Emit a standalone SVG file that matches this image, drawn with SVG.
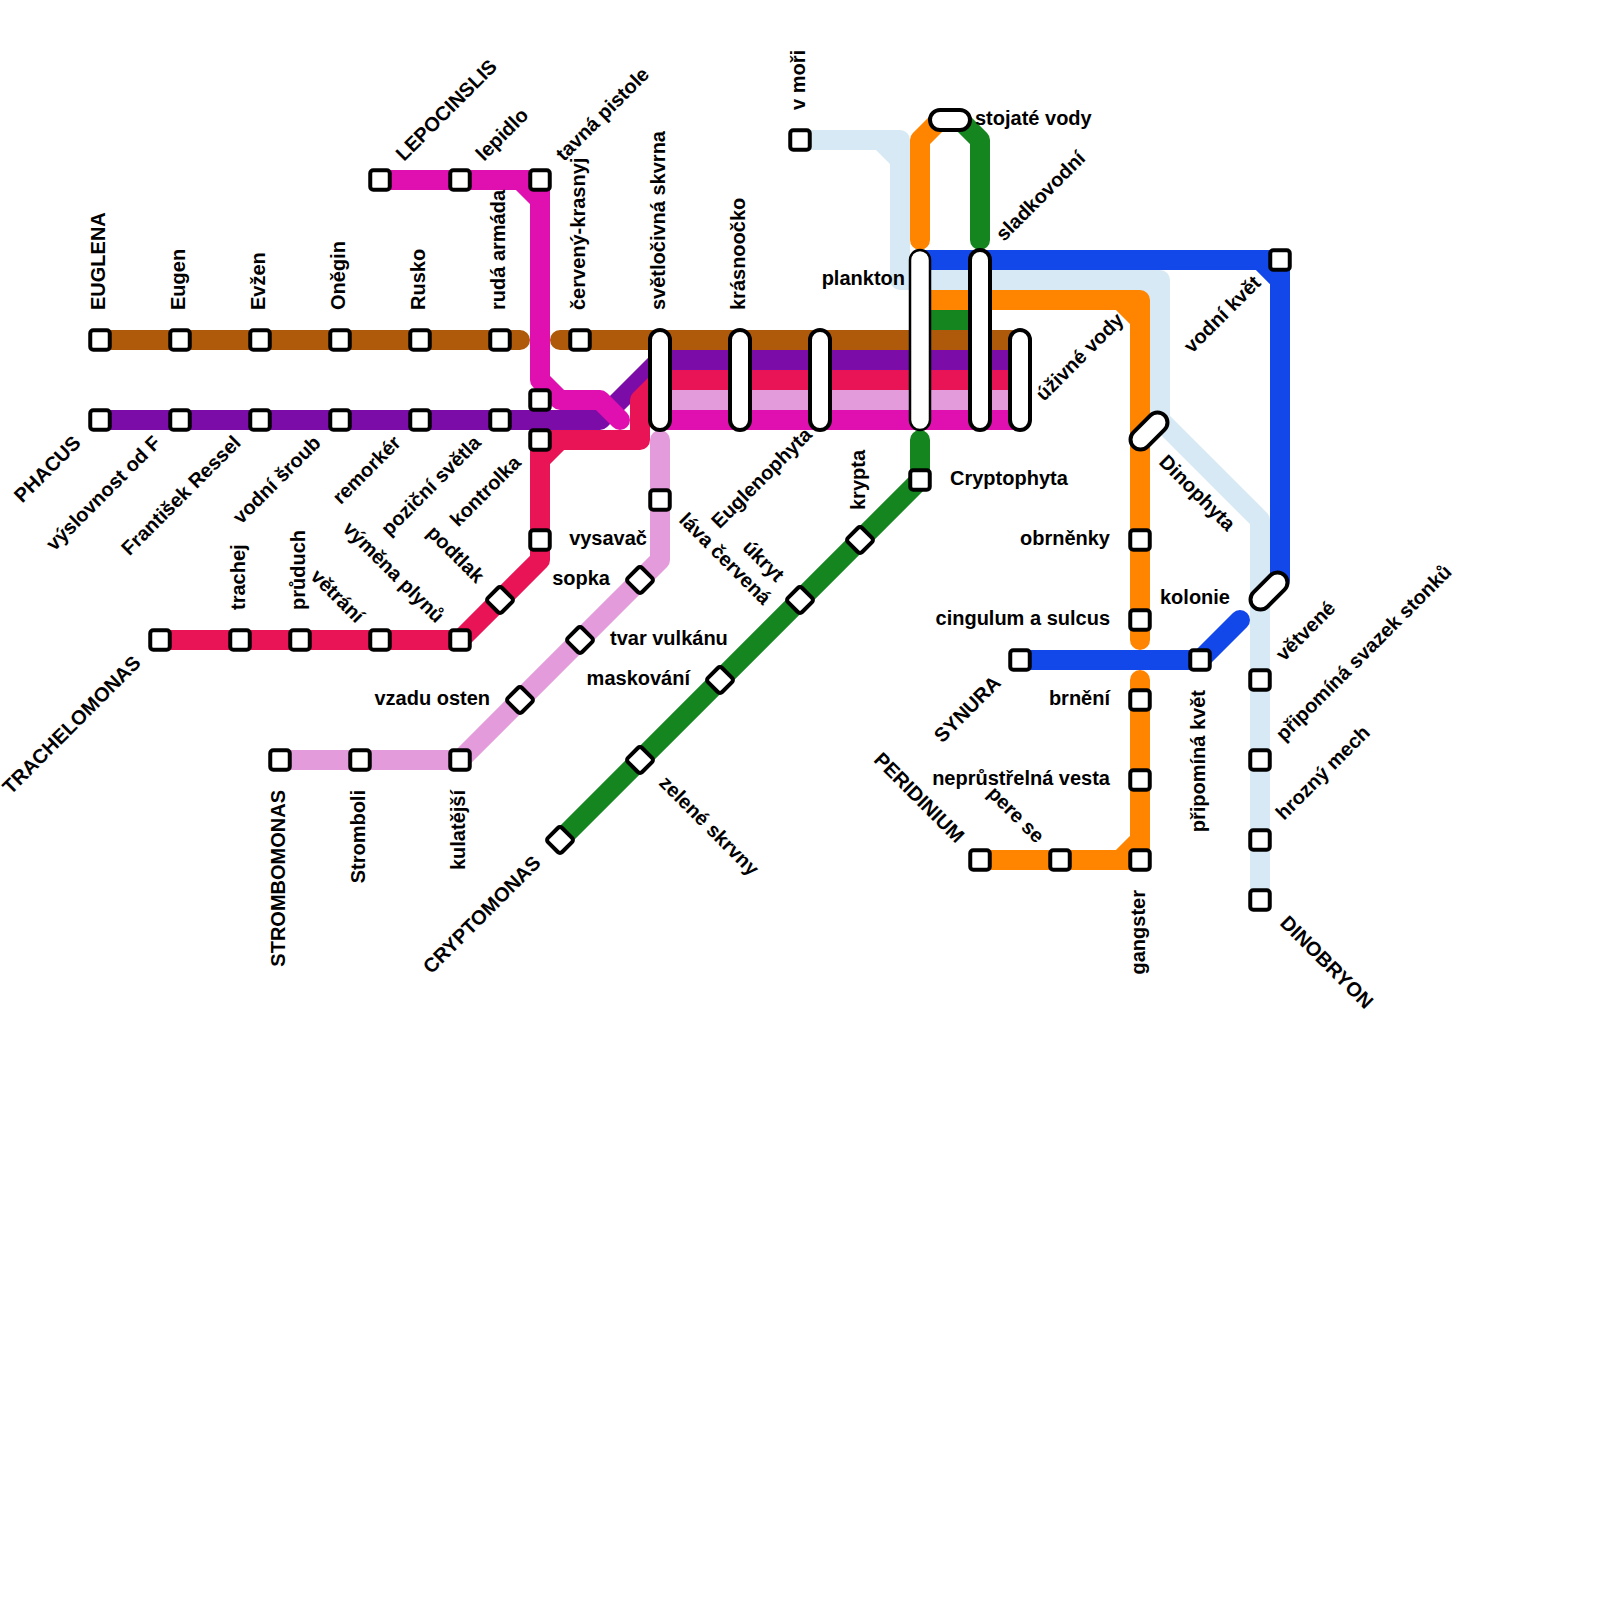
<svg xmlns="http://www.w3.org/2000/svg" width="1600" height="1600" viewBox="0 0 1600 1600">
<style>
.l{fill:none;stroke-width:20;stroke-linecap:round;stroke-linejoin:round}
.s{fill:#fff;stroke:#000;stroke-width:4}
text{font-family:"Liberation Sans",Arial,sans-serif;font-weight:700;font-size:20px;fill:#000}
.e{text-anchor:end}
</style>
<defs>
<rect id="sq" class="s" x="-9.75" y="-9.75" width="19.5" height="19.5" rx="3"/>
<rect id="di" class="s" x="-10" y="-10" width="20" height="20" rx="3" transform="rotate(45)"/>
</defs>
<rect width="1600" height="1600" fill="#fff"/>
<g id="connectors">
<path class="l" stroke="#d6e9f5" d="M800,140H900V280H1160V420L1260,520V900M880,140L900,160M1140,280L1160,300"/>
<path class="l" stroke="#1247ea" d="M920,260H1280V580L1270,590M1260,260L1280,280M1020,660H1200L1240,620"/>
<path class="l" stroke="#ff8500" d="M940,120L920,140V240M920,300H1140V640M1120,300L1140,320M1140,680V860H980M1140,840L1120,860"/>
<path class="l" stroke="#14851f" d="M960,120L980,140V240M920,320H980M920,440V480L560,840"/>
<path class="l" stroke="#ae5a0a" d="M100,340H520M560,340H1020"/>
<path class="l" stroke="#7b0ca8" d="M100,420H600L660,360H1020"/>
<path class="l" stroke="#e39bdb" d="M280,760H460L660,560V440M660,400H1020"/>
<path class="l" stroke="#e81455" d="M160,640H460L540,560V440H640V400L660,380H1020M560,440L540,460"/>
<path class="l" stroke="#e00fb0" d="M380,180H540V380L560,400H600L620,420M520,180L540,200M660,420H1020"/>
</g>
<g id="stations">
<g id="n1"><use href="#sq" x="100" y="340"/><text transform="translate(105,310) rotate(-90)">EUGLENA</text></g>
<g id="n2"><use href="#sq" x="180" y="340"/><text transform="translate(185,310) rotate(-90)">Eugen</text></g>
<g id="n3"><use href="#sq" x="260" y="340"/><text transform="translate(265,310) rotate(-90)">Evžen</text></g>
<g id="n4"><use href="#sq" x="340" y="340"/><text transform="translate(345,310) rotate(-90)">Oněgin</text></g>
<g id="n5"><use href="#sq" x="420" y="340"/><text transform="translate(425,310) rotate(-90)">Rusko</text></g>
<g id="n6"><use href="#sq" x="500" y="340"/><text transform="translate(505,310) rotate(-90)">rudá armáda</text></g>
<g id="n7"><use href="#sq" x="580" y="340"/><text transform="translate(585,310) rotate(-90)">červený-krasnyj</text></g>
<g id="n8"><rect class="s" x="650" y="330" width="20" height="100" rx="10"/><text transform="translate(665,310) rotate(-90)">světločivná skvrna</text></g>
<g id="n9"><rect class="s" x="730" y="330" width="20" height="100" rx="10"/><text transform="translate(745,310) rotate(-90)">krásnoočko</text></g>
<g id="n10"><rect class="s" x="810" y="330" width="20" height="100" rx="10"/><text class="e" transform="translate(813,436) rotate(-45)">Euglenophyta</text></g>
<g id="n11"><rect class="s" x="910" y="250" width="20" height="180" rx="10" style="stroke-width:2.5"/><text class="e" x="905" y="285">plankton</text></g>
<g id="n12"><rect class="s" x="970" y="250" width="20" height="180" rx="10"/><text transform="translate(1004,242) rotate(-45)">sladkovodní</text></g>
<g id="n13"><rect class="s" x="1010" y="330" width="20" height="100" rx="10"/><text transform="translate(1044,402) rotate(-45)">úživné vody</text></g>
<g id="n14"><rect class="s" x="930" y="110" width="40" height="20" rx="10"/><text x="975" y="125">stojaté vody</text></g>
<g id="n15"><use href="#sq" x="100" y="420"/><text class="e" transform="translate(82,444) rotate(-45)">PHACUS</text></g>
<g id="n16"><use href="#sq" x="180" y="420"/><text class="e" transform="translate(162,444) rotate(-45)">výslovnost od F</text></g>
<g id="n17"><use href="#sq" x="260" y="420"/><text class="e" transform="translate(242,444) rotate(-45)">František Ressel</text></g>
<g id="n18"><use href="#sq" x="340" y="420"/><text class="e" transform="translate(322,444) rotate(-45)">vodní šroub</text></g>
<g id="n19"><use href="#sq" x="420" y="420"/><text class="e" transform="translate(402,444) rotate(-45)">remorkér</text></g>
<g id="n20"><use href="#sq" x="500" y="420"/><text class="e" transform="translate(482,444) rotate(-45)">poziční světla</text></g>
<g id="n21"><use href="#sq" x="540" y="400"/></g>
<g id="n22"><use href="#sq" x="540" y="440"/><text class="e" transform="translate(522,464) rotate(-45)">kontrolka</text></g>
<g id="n23"><use href="#sq" x="540" y="540"/></g>
<g id="n24"><use href="#di" x="500" y="600"/><text class="e" transform="translate(476,584) rotate(45)">podtlak</text></g>
<g id="n25"><use href="#sq" x="460" y="640"/><text class="e" transform="translate(436,624) rotate(45)">výměna plynů</text></g>
<g id="n26"><use href="#sq" x="380" y="640"/><text class="e" transform="translate(356,624) rotate(45)">větrání</text></g>
<g id="n27"><use href="#sq" x="300" y="640"/><text transform="translate(305,610) rotate(-90)">průduch</text></g>
<g id="n28"><use href="#sq" x="240" y="640"/><text transform="translate(245,610) rotate(-90)">trachej</text></g>
<g id="n29"><use href="#sq" x="160" y="640"/><text class="e" transform="translate(142,664) rotate(-45)">TRACHELOMONAS</text></g>
<g id="n30"><use href="#sq" x="380" y="180"/><text transform="translate(404,162) rotate(-45)">LEPOCINSLIS</text></g>
<g id="n31"><use href="#sq" x="460" y="180"/><text transform="translate(484,162) rotate(-45)">lepidlo</text></g>
<g id="n32"><use href="#sq" x="540" y="180"/><text transform="translate(564,162) rotate(-45)">tavná pistole</text></g>
<g id="n33"><use href="#sq" x="660" y="500"/><text transform="translate(678,521) rotate(45)">láva červená</text></g>
<g id="n34"><use href="#di" x="640" y="580"/><text class="e" x="610" y="585">sopka</text></g>
<g id="n35"><use href="#di" x="580" y="640"/><text x="610" y="645">tvar vulkánu</text></g>
<g id="n36"><use href="#di" x="520" y="700"/><text class="e" x="490" y="705">vzadu osten</text></g>
<g id="n37"><use href="#sq" x="460" y="760"/><text class="e" transform="translate(465,790) rotate(-90)">kulatější</text></g>
<g id="n38"><use href="#sq" x="360" y="760"/><text class="e" transform="translate(365,790) rotate(-90)">Stromboli</text></g>
<g id="n39"><use href="#sq" x="280" y="760"/><text class="e" transform="translate(285,790) rotate(-90)">STROMBOMONAS</text></g>
<text class="e" x="647" y="545">vysavač</text>
<g id="n40"><use href="#sq" x="920" y="480"/><text x="950" y="485">Cryptophyta</text></g>
<g id="n41"><use href="#di" x="860" y="540"/><text transform="translate(865,510) rotate(-90)">krypta</text></g>
<g id="n42"><use href="#di" x="800" y="600"/><text class="e" transform="translate(776,583) rotate(45)">úkryt</text></g>
<g id="n43"><use href="#di" x="720" y="680"/><text class="e" x="690" y="685">maskování</text></g>
<g id="n44"><use href="#di" x="640" y="760"/><text transform="translate(658,784) rotate(45)">zelené skrvny</text></g>
<g id="n45"><use href="#di" x="560" y="840"/><text class="e" transform="translate(542,864) rotate(-45)">CRYPTOMONAS</text></g>
<g id="n46"><use href="#sq" x="800" y="140"/><text transform="translate(805,110) rotate(-90)">v moři</text></g>
<g id="n47"><use href="#sq" x="1280" y="260"/><text class="e" transform="translate(1262,284) rotate(-45)">vodní květ</text></g>
<g id="n48"><rect class="s" x="-22" y="-10" width="44" height="20" rx="10" transform="translate(1149,431) rotate(-45)"/><text transform="translate(1158,463) rotate(45)">Dinophyta</text></g>
<g id="n49"><use href="#sq" x="1140" y="540"/><text class="e" x="1110" y="545">obrněnky</text></g>
<g id="n50"><use href="#sq" x="1140" y="620"/><text class="e" x="1110" y="625">cingulum a sulcus</text></g>
<g id="n51"><use href="#sq" x="1140" y="700"/><text class="e" x="1110" y="705">brnění</text></g>
<g id="n52"><use href="#sq" x="1140" y="780"/><text class="e" x="1110" y="785">neprůstřelná vesta</text></g>
<g id="n53"><use href="#sq" x="1140" y="860"/><text class="e" transform="translate(1145,890) rotate(-90)">gangster</text></g>
<g id="n54"><use href="#sq" x="1060" y="860"/><text class="e" transform="translate(1036,844) rotate(45)">pere se</text></g>
<g id="n55"><use href="#sq" x="980" y="860"/><text class="e" transform="translate(956,844) rotate(45)">PERIDINIUM</text></g>
<g id="n56"><use href="#sq" x="1020" y="660"/><text class="e" transform="translate(1002,684) rotate(-45)">SYNURA</text></g>
<g id="n57"><use href="#sq" x="1200" y="660"/><text class="e" transform="translate(1205,690) rotate(-90)">připomíná květ</text></g>
<g id="n58"><rect class="s" x="-22" y="-10" width="44" height="20" rx="10" transform="translate(1269,591) rotate(-45)"/><text class="e" x="1230" y="604">kolonie</text></g>
<g id="n59"><use href="#sq" x="1260" y="680"/><text transform="translate(1284,662) rotate(-45)">větvené</text></g>
<g id="n60"><use href="#sq" x="1260" y="760"/><text transform="translate(1284,742) rotate(-45)">připomíná svazek stonků</text></g>
<g id="n61"><use href="#sq" x="1260" y="840"/><text transform="translate(1284,821) rotate(-45)">hrozný mech</text></g>
<g id="n62"><use href="#sq" x="1260" y="900"/><text transform="translate(1279,924) rotate(45)">DINOBRYON</text></g>
</g>
</svg>
